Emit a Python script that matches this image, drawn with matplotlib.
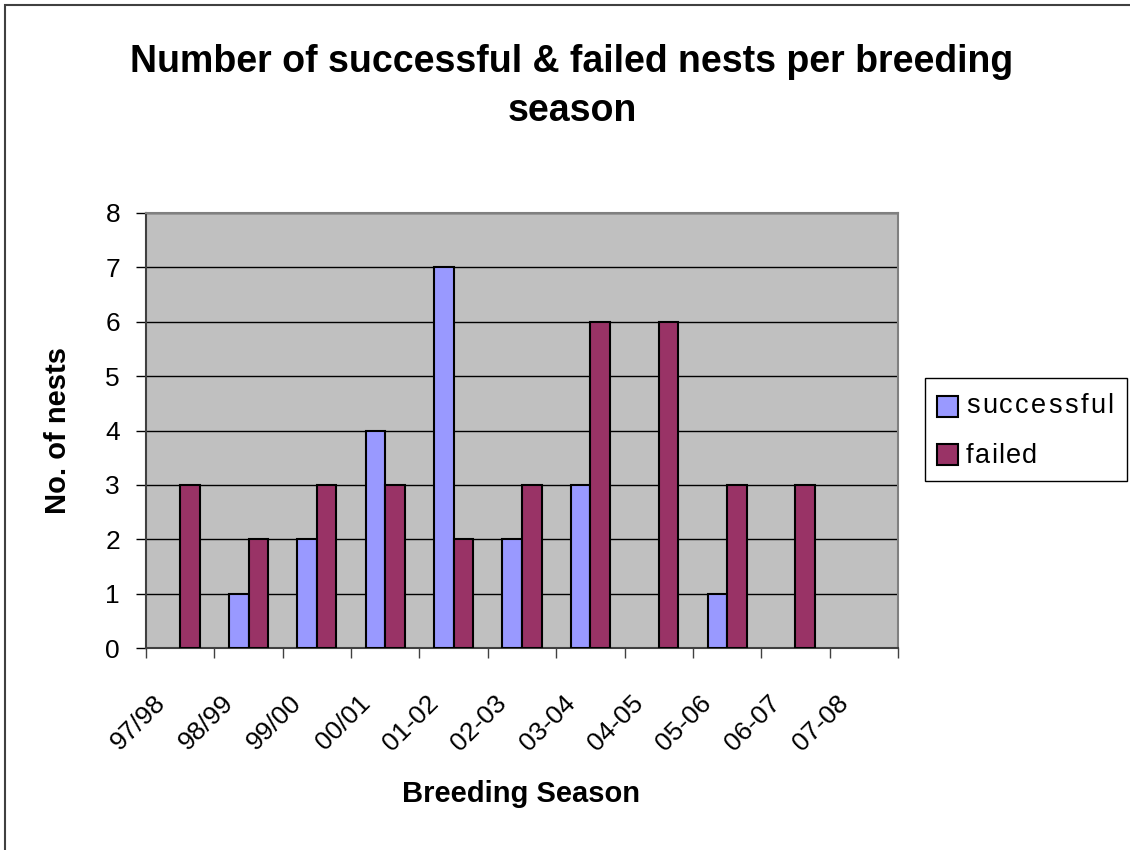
import matplotlib
matplotlib.use("Agg")
import matplotlib.pyplot as plt
from matplotlib.patches import Rectangle
from matplotlib.font_manager import FontProperties
import numpy as np

plt.rcParams['font.family'] = ['Liberation Sans', 'DejaVu Sans']

seasons = ["97/98", "98/99", "99/00", "00/01", "01-02", "02-03",
           "03-04", "04-05", "05-06", "06-07", "07-08"]
successful = [0, 1, 2, 4, 7, 2, 3, 0, 1, 0, 0]
failed = [3, 2, 3, 3, 2, 3, 6, 6, 3, 3, 0]
y_ticks = [0, 1, 2, 3, 4, 5, 6, 7, 8]
series_names = ["successful", "failed"]
series_colors = ["#9999FF", "#993366"]

W, H = 1130, 850
fig = plt.figure(figsize=(W / 100, H / 100), dpi=100)
fig.patch.set_facecolor("white")


def px(xp, yp):
    """Pixel position (from top-left) to figure fraction."""
    return xp / W, 1 - yp / H


# chart frame (left and top edges visible)
fig.add_artist(Rectangle((5 / W, -0.1), 1.2, 1 - 5 / H + 0.1, transform=fig.transFigure,
                         fill=False, edgecolor="#404040", linewidth=1.5))

ax = fig.add_axes([146 / W, 1 - 648 / H, (898 - 146) / W, (648 - 213) / H])
ax.set_facecolor("#C0C0C0")

n = len(seasons)
x = np.arange(n) + 0.5
bw = 1 / 3.5


def edges(values):
    return ["black" if v > 0 else "none" for v in values]


ax.bar(x - bw / 2, successful, width=bw, color=series_colors[0],
       edgecolor=edges(successful), linewidth=1.5, zorder=3)
ax.bar(x + bw / 2, failed, width=bw, color=series_colors[1],
       edgecolor=edges(failed), linewidth=1.5, zorder=3)

ax.set_xlim(0, n)
ax.set_ylim(0, 8)
ax.set_yticks(y_ticks)
ax.set_yticklabels([str(v) for v in y_ticks], fontsize=19)
ax.yaxis.grid(True, color="black", linewidth=1)
ax.set_axisbelow(True)

ax.set_xticks(np.arange(n + 1))
ax.set_xticklabels([])
ax.tick_params(axis="x", length=7.2, width=1, color="#404040", direction="out")
ax.tick_params(axis="y", length=7.2, width=1, color="black", direction="out", pad=11.5)

for side in ("top", "right"):
    ax.spines[side].set_color("#808080")
    ax.spines[side].set_linewidth(1.5)
for side in ("left", "bottom"):
    ax.spines[side].set_color("#404040")
    ax.spines[side].set_linewidth(1.5)

# rotated category labels
for xi, lab in zip(x, seasons):
    ax.annotate(lab, xy=(xi, 0), xycoords=("data", "axes fraction"),
                xytext=(-19, -51), textcoords="offset pixels",
                rotation=45, rotation_mode="anchor", ha="right", va="center",
                fontsize=19)

fig.text(*px(521, 794), "Breeding Season", ha="center", va="center",
         fontsize=21, fontweight="bold")
fig.text(*px(58, 430), "No. of nests", ha="center", va="center",
         rotation=90, fontsize=21, fontweight="bold")
fig.text(*px(572, 72), "Number of successful & failed nests per breeding",
         ha="center", va="baseline", fontsize=27, fontweight="bold")
fig.text(*px(572, 121), "season",
         ha="center", va="baseline", fontsize=27, fontweight="bold")

# legend box with letter-spaced entries
fig.add_artist(Rectangle(px(925, 481), 202 / W, 103 / H, transform=fig.transFigure,
                         facecolor="white", edgecolor="black", linewidth=1))
renderer = fig.canvas.get_renderer()
leg_font = FontProperties(family="Liberation Sans", size=19.5)


def spaced_text(x0, baseline, s, track):
    for i, ch in enumerate(s):
        adv = renderer.get_text_width_height_descent(s[:i], leg_font, ismath=False)[0] if i else 0
        fig.text(*px(x0 + adv + i * track, baseline), ch, fontproperties=leg_font,
                 ha="left", va="baseline")


for (top, baseline, track), name, col in zip([(396, 413, 2.3), (444, 463, 1.2)],
                                             series_names, series_colors):
    fig.add_artist(Rectangle(px(937, top + 21), 21 / W, 21 / H, transform=fig.transFigure,
                             facecolor=col, edgecolor="black", linewidth=1.5))
    spaced_text(966, baseline, name, track)

fig.savefig("out.png", dpi=100, facecolor="white")
